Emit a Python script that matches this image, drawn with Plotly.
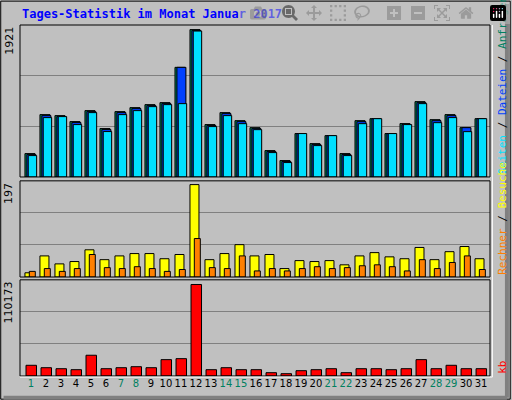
import plotly.graph_objects as go

days = list(range(1, 32))
weekend = [1, 7, 8, 14, 15, 21, 22, 28, 29]

hits = [305, 813, 800, 722, 865, 631, 852, 904, 943, 969, 1429, 1921, 683, 839, 734, 643,
        344, 214, 566, 435, 539, 305, 734, 760, 566, 696, 982, 747, 813, 643, 760]
files = [292, 800, 787, 709, 852, 618, 839, 891, 930, 956, 1429, 1908, 670, 826, 721, 630,
         331, 201, 566, 422, 539, 292, 721, 760, 566, 683, 969, 734, 800, 643, 760]
pages = [279, 774, 787, 683, 839, 592, 813, 865, 917, 943, 956, 1902, 657, 800, 695, 617,
         318, 188, 566, 409, 539, 279, 695, 760, 566, 683, 956, 708, 774, 591, 760]
visits = [9, 45, 28, 33, 58, 37, 45, 50, 50, 39, 48, 197, 37, 50, 69, 45,
          48, 18, 35, 33, 35, 26, 45, 52, 43, 39, 63, 37, 54, 65, 39]
sites = [12, 18, 12, 18, 48, 20, 18, 22, 18, 12, 16, 82, 20, 18, 45, 13,
         18, 13, 18, 22, 18, 20, 24, 26, 22, 13, 37, 18, 31, 45, 16]
kbytes = [12900, 10000, 8800, 7600, 25000, 8800, 10000, 11200, 10000, 19700, 20900, 110173,
          7600, 10000, 7600, 7600, 4000, 2800, 6400, 7600, 8800, 4000, 8800, 8800,
          7600, 8800, 19700, 8800, 12900, 8800, 8800]

fig = go.Figure()

def bars(vals, color, offset, width, yaxis):
    fig.add_trace(go.Bar(x=days, y=vals, offset=offset, width=width, yaxis=yaxis,
                         marker=dict(color=color, line=dict(color="black", width=1))))

bars(hits, "#00805c", -0.4, 0.67, "y")
bars(files, "#0040ff", -0.27, 0.6, "y")
bars(pages, "#00e0ff", -0.18, 0.56, "y")
bars(visits, "#ffff00", -0.4, 0.6, "y2")
bars(sites, "#ff8000", -0.11, 0.4, "y2")
bars(kbytes, "#ff0000", -0.33, 0.7, "y3")

ticktext = [f'<span style="color:#008060">{d}</span>' if d in weekend else str(d) for d in days]

grid = dict(showgrid=True, gridcolor="#808080", gridwidth=1, showticklabels=False,
            zeroline=False, ticks="")
fig.update_layout(
    width=512, height=400, barmode="overlay", showlegend=False,
    paper_bgcolor="#c0c0c0", plot_bgcolor="#c0c0c0",
    margin=dict(l=20, r=22, t=25, b=24),
    font=dict(family="DejaVu Sans", size=11, color="black"),
    xaxis=dict(range=[0.27, 31.6], tickvals=days, ticktext=ticktext, showgrid=False,
               ticks="", anchor="y3", tickangle=0, tickfont=dict(size=10)),
    yaxis=dict(domain=[0.567, 1], range=[0, 1981], dtick=660.3, **grid),
    yaxis2=dict(domain=[0.282, 0.556], range=[0, 205], dtick=68.3, **grid),
    yaxis3=dict(domain=[0, 0.274], range=[0, 115800], dtick=38600, **grid),
)

shapes = []
# frames around plot areas
for y0, y1 in [(0.567, 1), (0.282, 0.556), (0, 0.274)]:
    shapes.append(dict(type="rect", xref="paper", yref="paper", x0=0, x1=1, y0=y0, y1=y1,
                       line=dict(color="black", width=1)))
shapes.append(dict(type="line", xref="paper", yref="paper", x0=0, x1=1.005, y0=-0.003, y1=-0.003,
                   line=dict(color="white", width=1)))
shapes.append(dict(type="line", xref="paper", yref="paper", x0=1.005, x1=1.005, y0=-0.003, y1=1,
                   line=dict(color="white", width=1)))
# outer border
shapes.append(dict(type="rect", xref="paper", yref="paper", x0=-0.041, x1=1.043, y0=-0.066, y1=1.068,
                   line=dict(color="black", width=1)))
shapes.append(dict(type="line", xref="paper", yref="paper", x0=-0.035, x1=1.036, y0=-0.062, y1=-0.062,
                   line=dict(color="#808080", width=4)))
shapes.append(dict(type="line", xref="paper", yref="paper", x0=1.036, x1=1.036, y0=-0.062, y1=1.06,
                   line=dict(color="#808080", width=4)))
fig.update_layout(shapes=shapes)

ann = [
    dict(text="<b>Tages-Statistik im Monat Januar 2017</b>", x=0, y=1.032, xanchor="left",
         yanchor="middle", font=dict(family="DejaVu Sans Mono", size=12, color="#0000ff")),
    dict(text="1921", x=-0.006, y=1, xanchor="right", yanchor="top", textangle=-90),
    dict(text="197", x=-0.006, y=0.556, xanchor="right", yanchor="top", textangle=-90),
    dict(text="110173", x=-0.006, y=0.274, xanchor="right", yanchor="top", textangle=-90),
    dict(text='<span style="color:#00e0ff">Seiten</span> / <span style="color:#0040ff">Dateien</span>'
              ' / <span style="color:#008060">Anfragen</span>',
         x=1.008, y=0.567, xanchor="left", yanchor="bottom", textangle=-90,
         font=dict(family="DejaVu Sans Mono", size=11)),
    dict(text='<span style="color:#ff8000">Rechner</span> / <span style="color:#ffff00">Besuche</span>',
         x=1.008, y=0.282, xanchor="left", yanchor="bottom", textangle=-90,
         font=dict(family="DejaVu Sans Mono", size=11)),
    dict(text='<span style="color:#ff0000">kb</span>', x=1.008, y=0, xanchor="left",
         yanchor="bottom", textangle=-90, font=dict(family="DejaVu Sans Mono", size=11)),
]
for a in ann:
    a.setdefault("xref", "paper")
    a.setdefault("yref", "paper")
    a["showarrow"] = False
fig.update_layout(annotations=ann)

fig.write_html("out.html", post_script="document.body.style.margin='0';")
